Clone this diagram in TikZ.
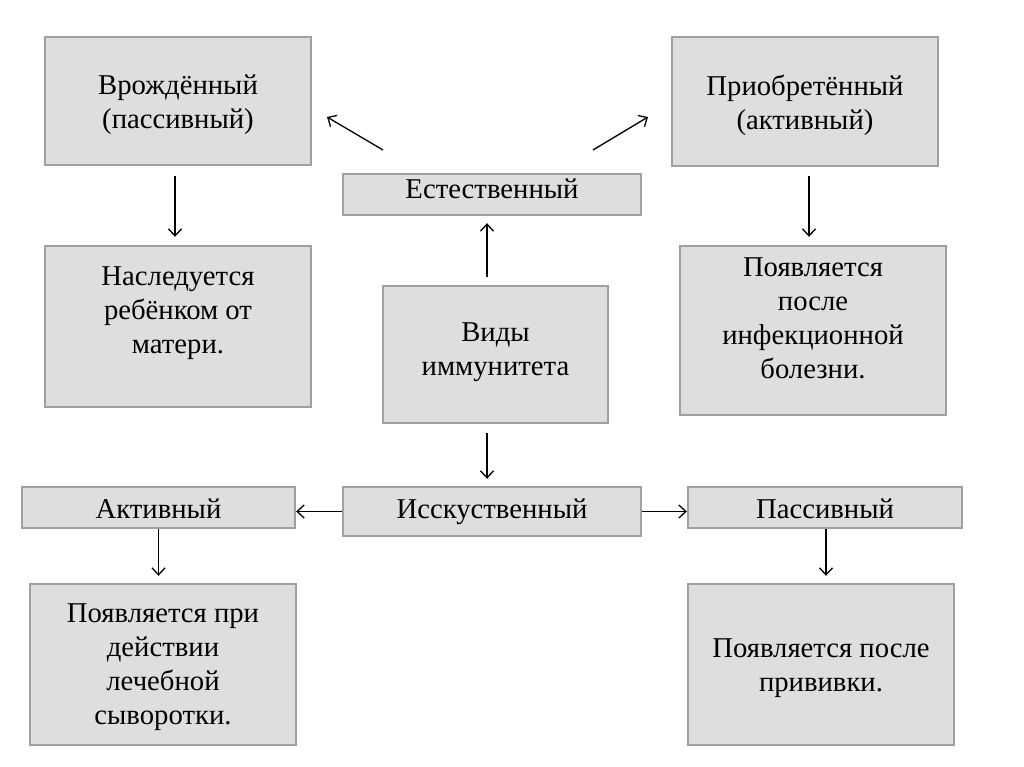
\documentclass[tikz,border=0pt]{standalone}
\usepackage{fontspec}
\setmainfont{Liberation Serif}
\usetikzlibrary{arrows.meta}
\definecolor{boxfill}{RGB}{222,222,222}
\definecolor{boxline}{RGB}{160,160,160}
\tikzset{
  box/.style={draw=boxline, fill=boxfill, line width=2.4pt, inner sep=0pt},
  txt/.style={align=center, inner sep=0pt, font=\fontsize{28.7}{34}\selectfont},
  arr/.style={-{Straight Barb[length=7pt,width=13pt]}, line width=1.3pt, black},
}
\begin{document}
\begin{tikzpicture}[x=1pt,y=-1pt]
\useasboundingbox (0,0) rectangle (1024,767);
\fill[white] (0,0) rectangle (1024,767);
% boxes
\node[box, minimum width=266, minimum height=128] (b1) at (178,101) {};
\node[box, minimum width=266, minimum height=129] (b2) at (805,101.5) {};
\node[box, minimum width=298, minimum height=41] (b3) at (492,194.5) {};
\node[box, minimum width=266, minimum height=161] (b4) at (178,326.5) {};
\node[box, minimum width=225, minimum height=137] (b5) at (495.5,354.5) {};
\node[box, minimum width=266, minimum height=169] (b6) at (813,330.5) {};
\node[box, minimum width=273, minimum height=41] (b7) at (158.5,507.5) {};
\node[box, minimum width=298, minimum height=49] (b8) at (492,511.5) {};
\node[box, minimum width=274, minimum height=41] (b9) at (825,507.5) {};
\node[box, minimum width=266, minimum height=161] (b10) at (163,664.5) {};
\node[box, minimum width=266, minimum height=161] (b11) at (821,664.5) {};
% texts
\node[txt] (t1) at (178,105) {Врождённый\\(пассивный)};
\node[txt] (t2) at (805,105) {Приобретённый\\(активный)};
\node[txt, anchor=base] (t3) at (492,199) {Естественный};
\node[txt] (t4) at (178,313) {Наследуется\\ребёнком от\\матери.};
\node[txt] (t5) at (495.5,352) {Виды\\иммунитета};
\node[txt] (t6) at (813,318) {Появляется\\после\\инфекционной\\болезни.};
\node[txt, anchor=base] (t7) at (158.5,518) {Активный};
\node[txt, anchor=base] (t8) at (492,518) {Исскуственный};
\node[txt, anchor=base] (t9) at (825,518) {Пассивный};
\node[txt] (t10) at (163,667) {Появляется при\\действии\\лечебной\\сыворотки.};
\node[txt] (t11) at (821,668) {Появляется после\\прививки.};
% free arrow ends
\coordinate (dl0) at (383,150);
\coordinate (dl1) at (327,117);
\coordinate (dr0) at (593,150);
\coordinate (dr1) at (648,117);
% arrows
\draw[arr] (dl0) -- (dl1);
\draw[arr] (dr0) -- (dr1);
\draw[arr, shorten <=10pt, shorten >=8pt] ([xshift=-3pt]b1.south) -- ([xshift=-3pt]b1.south |- b4.north);
\draw[arr, shorten <=9pt, shorten >=8pt] ([xshift=4pt]b2.south) -- ([xshift=4pt]b2.south |- b6.north);
\draw[arr, shorten <=8pt, shorten >=7pt] ([xshift=-8.5pt]b5.north) -- ([xshift=-8.5pt]b5.north |- b3.south);
\draw[arr, shorten <=9pt, shorten >=7pt] ([xshift=-8.5pt]b5.south) -- ([xshift=-8.5pt]b5.south |- b8.north);
\draw[arr] (b8.west) -- (b8.west -| b7.east);
\draw[arr] (b8.east) -- (b8.east -| b9.west);
\draw[arr, shorten >=7pt] (b7.south) -- (b7.south |- b10.north);
\draw[arr, shorten >=7pt] ([xshift=1pt]b9.south) -- ([xshift=1pt]b9.south |- b11.north);
\end{tikzpicture}
\end{document}
